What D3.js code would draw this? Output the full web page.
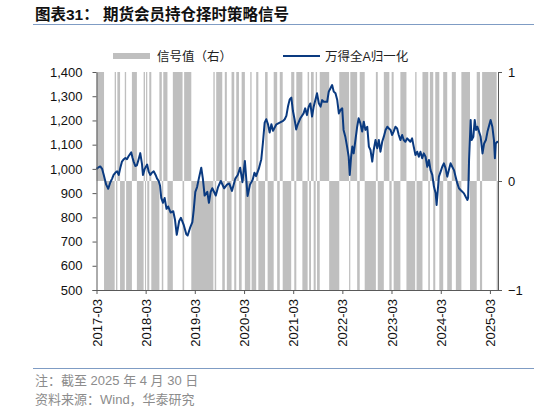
<!DOCTYPE html>
<html>
<head>
<meta charset="utf-8">
<script src="https://cdn.jsdelivr.net/npm/d3@7"></script>
<style>
  body { margin: 0; background: #fff; }
  svg text { font-family: "Liberation Sans", Arial, "Noto Sans CJK SC", sans-serif; }
</style>
</head>
<body>
<div id="chart"></div>
<script>
// size of the page
var w = 534;
var h = 413;

// index line (万得全A归一化)
var lineDates = [
  "2017-03-01","2017-03-12","2017-03-29","2017-04-12","2017-04-24","2017-05-12","2017-05-27","2017-06-12",
  "2017-06-25","2017-07-06","2017-07-20","2017-08-01","2017-08-13","2017-08-25","2017-09-06","2017-09-20",
  "2017-10-01","2017-10-13","2017-10-25","2017-11-14","2017-11-24","2017-12-02","2017-12-14","2017-12-26",
  "2018-01-08","2018-01-20","2018-02-02","2018-02-09","2018-02-22","2018-03-12","2018-03-23","2018-04-05",
  "2018-04-18","2018-04-30","2018-05-14","2018-05-25","2018-06-06","2018-06-16","2018-06-25","2018-07-08",
  "2018-07-20","2018-08-03","2018-08-15","2018-09-02","2018-09-22","2018-10-05","2018-10-18","2018-11-05",
  "2018-11-18","2018-12-08","2018-12-28","2019-01-07","2019-01-27","2019-02-11","2019-02-21","2019-03-05",
  "2019-03-18","2019-03-31","2019-04-18","2019-04-30","2019-05-13","2019-06-02","2019-06-14","2019-06-27",
  "2019-07-09","2019-08-04","2019-08-21","2019-09-10","2019-10-05","2019-10-26","2019-11-12","2019-12-02",
  "2019-12-27","2020-01-14","2020-02-01","2020-02-18","2020-03-07","2020-03-27","2020-04-14","2020-05-04",
  "2020-05-17","2020-05-29","2020-06-18","2020-07-07","2020-07-19","2020-08-01","2020-08-13","2020-08-26",
  "2020-09-07","2020-09-20","2020-10-02","2020-10-27","2020-11-21","2020-12-16","2020-12-28","2021-01-09",
  "2021-01-22","2021-02-03","2021-02-15","2021-02-27","2021-03-11","2021-03-23","2021-04-04","2021-04-23",
  "2021-05-17","2021-05-29","2021-06-11","2021-06-24","2021-07-06","2021-07-19","2021-07-31","2021-08-25",
  "2021-09-07","2021-09-20","2021-10-02","2021-10-14","2021-11-08","2021-11-20","2021-12-03","2021-12-15",
  "2021-12-27","2022-01-09","2022-01-22","2022-02-03","2022-02-15","2022-02-28","2022-03-10","2022-03-23",
  "2022-04-05","2022-04-17","2022-04-25","2022-05-05","2022-05-14","2022-05-24","2022-06-06","2022-06-19",
  "2022-06-30","2022-07-13","2022-07-26","2022-08-07","2022-08-19","2022-09-02","2022-09-14","2022-09-26",
  "2022-10-09","2022-10-20","2022-11-02","2022-11-15","2022-11-27","2022-12-09","2022-12-22","2023-01-03",
  "2023-01-16","2023-01-29","2023-02-10","2023-02-22","2023-03-05","2023-03-17","2023-03-30","2023-04-12",
  "2023-04-24","2023-05-06","2023-05-19","2023-05-31","2023-06-12","2023-06-25","2023-07-07","2023-07-19",
  "2023-08-01","2023-08-13","2023-08-26","2023-09-08","2023-09-20","2023-10-02","2023-10-15","2023-10-27",
  "2023-11-09","2023-11-22","2023-12-04","2023-12-16","2023-12-29","2024-01-10","2024-01-23","2024-01-30",
  "2024-02-09","2024-02-16","2024-02-29","2024-03-12","2024-03-24","2024-04-06","2024-04-18","2024-04-30",
  "2024-05-13","2024-05-25","2024-06-07","2024-06-19","2024-07-02","2024-07-14","2024-07-26","2024-08-08",
  "2024-08-20","2024-09-02","2024-09-15","2024-09-20","2024-09-27","2024-10-09","2024-10-16","2024-10-29",
  "2024-11-08","2024-11-18","2024-11-28","2024-12-10","2024-12-22","2025-01-05","2025-01-17","2025-01-30",
  "2025-02-11","2025-02-24","2025-03-06","2025-03-19","2025-03-31","2025-04-07","2025-04-13","2025-04-25",
  "2025-04-30"
];
var lineValues = [
  1000,1005,1010,1000,975,935,918,945,
  960,975,985,990,975,1005,1030,1040,
  1045,1040,1052,1068,1045,1030,1012,1015,
  1040,1065,1020,975,1000,1018,990,975,
  985,990,975,960,950,930,880,860,
  880,835,845,820,825,790,728,785,
  798,770,730,725,760,780,830,905,
  925,960,1005,960,890,905,860,905,
  920,890,925,950,920,935,940,909,
  960,975,1005,945,1033,888,935,955,
  984,970,1000,1040,1108,1191,1205,1184,
  1150,1184,1157,1184,1191,1198,1205,1219,
  1260,1287,1294,1239,1205,1163,1184,1209,
  1229,1250,1222,1257,1270,1216,1257,1312,
  1271,1257,1284,1277,1277,1319,1333,1346,
  1319,1312,1284,1229,1243,1250,1161,1133,
  1092,1050,975,1050,1092,1064,1119,1174,
  1209,1188,1154,1195,1161,1174,1092,1078,
  1030,1078,1119,1085,1119,1071,1112,1133,
  1161,1174,1167,1161,1140,1154,1174,1167,
  1140,1119,1140,1119,1112,1126,1119,1112,
  1126,1092,1057,1071,1050,1071,1044,1064,
  1050,1009,1037,995,975,927,899,851,
  920,968,989,1009,1023,1002,968,995,
  1023,1009,995,968,940,920,913,906,
  899,885,872,880,1037,1202,1119,1133,
  1202,1161,1174,1154,1133,1064,1105,1119,
  1154,1181,1202,1174,1119,1044,1105,1112,
  1108
];

// signal value (右轴): each value holds from its date until the next date
var signalDates = [
  "2017-03-01","2017-04-26","2017-07-14","2017-07-24","2017-08-03","2017-08-23","2017-09-27","2017-10-07",
  "2017-11-19","2017-12-26","2018-02-14","2018-02-24","2018-03-04","2018-03-13","2018-03-28","2018-04-12",
  "2018-06-11","2018-06-29","2018-07-10","2018-08-10","2018-09-19","2018-11-30","2018-12-12","2019-02-03",
  "2019-07-17","2019-07-27","2019-08-07","2019-09-21","2019-10-10","2019-10-25","2019-11-29","2019-12-19",
  "2020-01-03","2020-01-23","2020-02-12","2020-03-07","2020-04-16","2020-04-26","2020-05-30","2020-06-15",
  "2020-08-04","2020-08-23","2020-10-07","2020-11-02","2020-11-21","2020-12-13","2021-02-14","2021-03-09",
  "2021-03-24","2021-05-08","2021-06-16","2021-06-27","2021-07-11","2021-07-31","2021-08-15","2021-08-25",
  "2021-09-14","2021-11-23","2022-02-06","2022-04-20","2022-04-29","2022-06-19","2022-07-08","2022-08-14",
  "2022-11-05","2022-11-19","2023-01-03","2023-02-13","2023-03-02","2023-03-17","2023-05-06","2023-06-20",
  "2023-08-24","2023-09-03","2023-10-17","2023-11-29","2023-12-11","2024-01-05","2024-01-20","2024-02-19",
  "2024-03-19","2024-04-18","2024-05-22","2024-06-21","2024-08-01","2024-10-04","2024-11-23","2024-12-17",
  "2025-01-02","2025-04-20"
];
var signalValues = [
  1,-1,1,-1,1,-1,1,-1,
  1,-1,1,-1,1,-1,1,-1,
  1,-1,1,-1,1,-1,1,-1,
  1,-1,1,-1,1,-1,1,-1,
  1,-1,1,-1,1,-1,1,-1,
  1,-1,1,-1,1,-1,1,-1,
  1,-1,1,-1,1,-1,1,-1,
  1,-1,1,-1,1,-1,1,-1,
  1,-1,1,-1,1,-1,1,-1,
  1,-1,1,-1,1,-1,1,-1,
  1,-1,1,-1,1,-1,1,-1,
  1,-1
];
var endDate = "2025-04-30";

// axis ticks
var leftTicks = [500, 600, 700, 800, 900, 1000, 1100, 1200, 1300, 1400];
var rightTicks = [-1, 0, 1];
var xTickLabels = ["2017-03","2018-03","2019-03","2020-03","2021-03","2022-03","2023-03","2024-03","2025-03"];

var parseDay = d3.timeParse("%Y-%m-%d");
var parseMonth = d3.timeParse("%Y-%m");

var lineData = lineDates.map(function(d, i) { return { date: parseDay(d), value: lineValues[i] }; });
var segData = signalDates.map(function(d, i) {
  return {
    start: parseDay(d),
    end: parseDay(i < signalDates.length - 1 ? signalDates[i + 1] : endDate),
    value: signalValues[i]
  };
});

var svg = d3.select("#chart").append("svg")
  .attr("width", w)
  .attr("height", h);

// scales
var xScale = d3.scaleTime()
  .domain([parseDay("2017-03-01"), parseDay(endDate)])
  .range([96.5, 498]);

var yLeft = d3.scaleLinear()
  .domain([500, 1400])
  .range([290, 72]);

var yRight = d3.scaleLinear()
  .domain([-1, 1])
  .range([290, 72]);

// title and rule under it
var title = svg.append("text")
  .attr("y", 20)
  .attr("font-size", "15.5px")
  .attr("font-weight", "bold")
  .attr("fill", "#111");
title.append("tspan").attr("x", 35).text("图表31：");
title.append("tspan").attr("x", 103).text("期货会员持仓择时策略信号");

svg.append("line")
  .attr("x1", 33).attr("x2", 534)
  .attr("y1", 24.5).attr("y2", 24.5)
  .attr("stroke", "#7f9cc4")
  .attr("stroke-width", 1.2);

// legend
svg.append("rect")
  .attr("x", 113).attr("y", 53)
  .attr("width", 37).attr("height", 6)
  .attr("fill", "#bfbfbf");
svg.append("text")
  .attr("x", 157).attr("y", 60.5)
  .attr("font-size", "12.5px")
  .attr("fill", "#222")
  .text("信号值（右）");
svg.append("line")
  .attr("x1", 283).attr("x2", 320)
  .attr("y1", 56).attr("y2", 56)
  .attr("stroke", "#0a3a80")
  .attr("stroke-width", 2);
svg.append("text")
  .attr("x", 325).attr("y", 60.5)
  .attr("font-size", "12.5px")
  .attr("fill", "#222")
  .text("万得全A归一化");

// signal bars
svg.selectAll(".sig")
  .data(segData)
  .enter()
  .append("rect")
  .attr("class", "sig")
  .attr("x", function(d) { return xScale(d.start); })
  .attr("width", function(d) { return Math.max(0, xScale(d.end) - xScale(d.start)); })
  .attr("y", function(d) { return d.value > 0 ? yRight(d.value) : yRight(0); })
  .attr("height", function(d) { return Math.abs(yRight(d.value) - yRight(0)); })
  .attr("fill", "#bfbfbf");

// index line
var line = d3.line()
  .x(function(d) { return xScale(d.date); })
  .y(function(d) { return yLeft(d.value); });

svg.append("path")
  .datum(lineData)
  .attr("fill", "none")
  .attr("stroke", "#0a3a80")
  .attr("stroke-width", 2)
  .attr("stroke-linejoin", "round")
  .attr("d", line);

// axes
function styleAxis(g) {
  g.selectAll("path, line").attr("stroke", "#595959");
  g.selectAll("text").attr("fill", "#111").attr("font-size", "13px");
}

var leftAxis = d3.axisLeft(yLeft)
  .tickValues(leftTicks)
  .tickFormat(d3.format(","))
  .tickSize(4)
  .tickSizeOuter(0)
  .tickPadding(10);
svg.append("g")
  .attr("transform", "translate(96.5,0)")
  .call(leftAxis)
  .call(styleAxis);

var rightAxis = d3.axisRight(yRight)
  .tickValues(rightTicks)
  .tickFormat(d3.format("d"))
  .tickSize(4)
  .tickSizeOuter(0)
  .tickPadding(6);
svg.append("g")
  .attr("transform", "translate(498,0)")
  .call(rightAxis)
  .call(styleAxis);

var bottomAxis = d3.axisBottom(xScale)
  .tickValues(xTickLabels.map(function(d) { return parseMonth(d); }))
  .tickFormat(d3.timeFormat("%Y-%m"))
  .tickSize(4)
  .tickSizeOuter(0);
var gx = svg.append("g")
  .attr("transform", "translate(0,290)")
  .call(bottomAxis)
  .call(styleAxis);
gx.select(".domain").attr("d", "M92.5,0.5H498");
gx.selectAll("text")
  .attr("transform", "rotate(-90)")
  .attr("text-anchor", "end")
  .attr("x", -9)
  .attr("y", 0)
  .attr("dy", "0.35em");

// footer
svg.append("line")
  .attr("x1", 33).attr("x2", 534)
  .attr("y1", 368.5).attr("y2", 368.5)
  .attr("stroke", "#7f9cc4")
  .attr("stroke-width", 1);

svg.append("text")
  .attr("x", 35).attr("y", 385)
  .attr("font-size", "13px")
  .attr("fill", "#8c8c8c")
  .text("注：截至 2025 年 4 月 30 日");

svg.append("text")
  .attr("x", 35).attr("y", 404)
  .attr("font-size", "13px")
  .attr("fill", "#8c8c8c")
  .text("资料来源：Wind，华泰研究");
</script>
</body>
</html>
